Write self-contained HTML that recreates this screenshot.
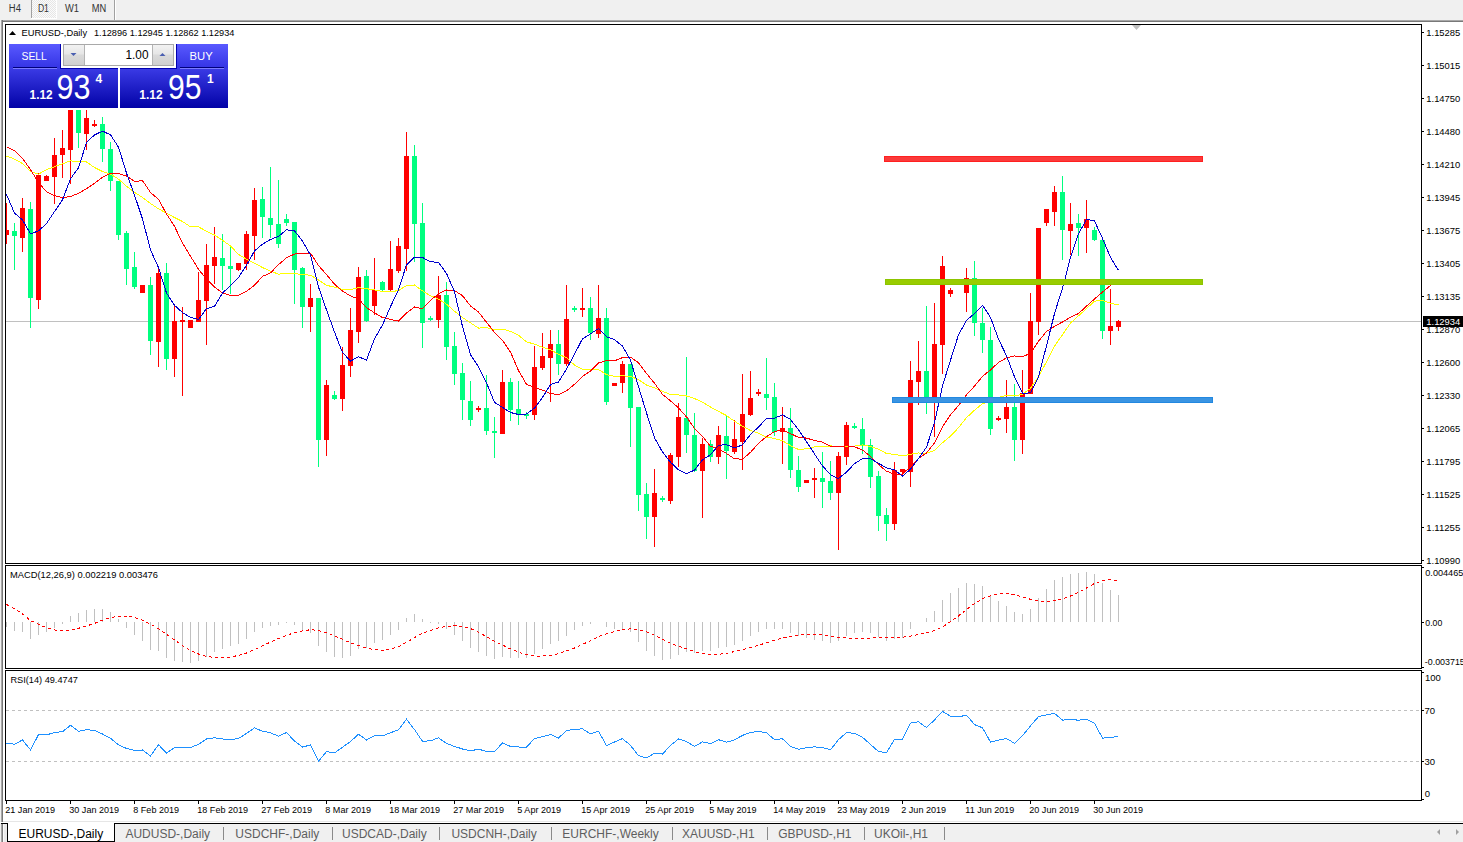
<!DOCTYPE html><html><head><meta charset="utf-8"><title>EURUSD-,Daily</title><style>html,body{margin:0;padding:0;background:#fff;}body{width:1463px;height:842px;overflow:hidden;}svg{display:block;}</style></head><body>
<svg width="1463" height="842" viewBox="0 0 1463 842" font-family="Liberation Sans, Arial, sans-serif">
<defs>
<linearGradient id="gtab" x1="0" y1="0" x2="0" y2="1"><stop offset="0" stop-color="#5959ff"/><stop offset="1" stop-color="#3434e4"/></linearGradient>
<linearGradient id="gblk" x1="0" y1="0" x2="0" y2="1"><stop offset="0" stop-color="#3b3be6"/><stop offset="1" stop-color="#0202a6"/></linearGradient>
<linearGradient id="gbtn" x1="0" y1="0" x2="0" y2="1"><stop offset="0" stop-color="#f2f2f2"/><stop offset="0.45" stop-color="#e6e6e6"/><stop offset="0.5" stop-color="#dadada"/><stop offset="1" stop-color="#d0d0d0"/></linearGradient>
<pattern id="chk" width="2" height="2" patternUnits="userSpaceOnUse"><rect width="2" height="2" fill="#fbfbfb"/><rect width="1" height="1" fill="#e6e6e6"/><rect x="1" y="1" width="1" height="1" fill="#e6e6e6"/></pattern>
<clipPath id="cmain"><rect x="6" y="25" width="1415" height="538"/></clipPath>
<clipPath id="cmacd"><rect x="6" y="566" width="1415" height="102"/></clipPath>
<clipPath id="crsi"><rect x="6" y="671" width="1415" height="129"/></clipPath>
</defs>
<g shape-rendering="crispEdges">
<rect x="0" y="0" width="1463" height="842" fill="#ffffff"/>
<rect x="0" y="0" width="1463" height="20" fill="#f0f0f0"/>
<rect x="32" y="0" width="24" height="18" fill="url(#chk)"/>
<rect x="31" y="0" width="1" height="18" fill="#a0a0a0"/><rect x="56" y="0" width="1" height="19" fill="#fff"/><rect x="31" y="18" width="26" height="1" fill="#fff"/>
<rect x="114" y="0" width="1" height="20" fill="#a0a0a0"/><rect x="115" y="0" width="1" height="20" fill="#ffffff"/>
<rect x="0" y="20" width="1463" height="1" fill="#a8a8a8"/><rect x="0" y="21" width="1463" height="1" fill="#787878"/>
<rect x="0" y="20" width="1" height="802" fill="#f0f0f0"/><rect x="1" y="20" width="1" height="802" fill="#a8a8a8"/><rect x="2" y="20" width="1" height="802" fill="#787878"/>
<rect x="3" y="821" width="1460" height="1" fill="#e6e6e6"/>
<rect x="0" y="823" width="1463" height="19" fill="#f0f0f0"/>
<rect x="1" y="823" width="7" height="1" fill="#000"/><rect x="114" y="823" width="1349" height="1" fill="#000"/>
<rect x="1" y="824" width="1" height="18" fill="#a8a8a8"/><rect x="2" y="824" width="1" height="18" fill="#808080"/><rect x="3" y="824" width="1" height="18" fill="#fafafa"/><rect x="4" y="824" width="3" height="18" fill="#ebebeb"/>
<rect x="7" y="823" width="108" height="19" fill="#000"/><rect x="8" y="823" width="106" height="18" fill="#fff"/>
<rect x="5.5" y="24.5" width="1416" height="539" fill="none" stroke="#000" stroke-width="1"/>
<rect x="5.5" y="565.5" width="1416" height="103" fill="none" stroke="#000" stroke-width="1"/>
<rect x="5.5" y="670.5" width="1416" height="130" fill="none" stroke="#000" stroke-width="1"/>
</g>
<g font-size="10" fill="#333">
<text x="8.8" y="12" textLength="12.1" lengthAdjust="spacingAndGlyphs">H4</text>
<text x="37.9" y="12" textLength="11" lengthAdjust="spacingAndGlyphs">D1</text>
<text x="65" y="12" textLength="14" lengthAdjust="spacingAndGlyphs">W1</text>
<text x="91.8" y="12" textLength="14.5" lengthAdjust="spacingAndGlyphs">MN</text>
</g>
<g clip-path="url(#cmain)" shape-rendering="crispEdges">
<rect x="6" y="321" width="1415" height="1" fill="#c0c0c0"/>
<rect x="6" y="203" width="1" height="41" fill="#ff0000"/>
<rect x="4" y="230" width="5" height="5" fill="#ff0000"/>
<rect x="14" y="223" width="1" height="47" fill="#00ff7f"/>
<rect x="12" y="231" width="5" height="5" fill="#00ff7f"/>
<rect x="22" y="198" width="1" height="54" fill="#ff0000"/>
<rect x="20" y="208" width="5" height="30" fill="#ff0000"/>
<rect x="30" y="202" width="1" height="126" fill="#00ff7f"/>
<rect x="28" y="209" width="5" height="89" fill="#00ff7f"/>
<rect x="38" y="173" width="1" height="136" fill="#ff0000"/>
<rect x="36" y="175" width="5" height="125" fill="#ff0000"/>
<rect x="46" y="175" width="1" height="6" fill="#ff0000"/>
<rect x="44" y="176" width="5" height="5" fill="#ff0000"/>
<rect x="54" y="138" width="1" height="66" fill="#ff0000"/>
<rect x="52" y="155" width="5" height="22" fill="#ff0000"/>
<rect x="62" y="130" width="1" height="48" fill="#ff0000"/>
<rect x="60" y="148" width="5" height="7" fill="#ff0000"/>
<rect x="70" y="95" width="1" height="89" fill="#ff0000"/>
<rect x="68" y="100" width="5" height="50" fill="#ff0000"/>
<rect x="78" y="95" width="1" height="53" fill="#00ff7f"/>
<rect x="76" y="100" width="5" height="33" fill="#00ff7f"/>
<rect x="86" y="108" width="1" height="42" fill="#ff0000"/>
<rect x="84" y="118" width="5" height="16" fill="#ff0000"/>
<rect x="94" y="120" width="1" height="7" fill="#ff0000"/>
<rect x="92" y="124" width="5" height="2" fill="#ff0000"/>
<rect x="102" y="117" width="1" height="45" fill="#00ff7f"/>
<rect x="100" y="124" width="5" height="25" fill="#00ff7f"/>
<rect x="110" y="142" width="1" height="49" fill="#00ff7f"/>
<rect x="108" y="149" width="5" height="32" fill="#00ff7f"/>
<rect x="118" y="181" width="1" height="59" fill="#00ff7f"/>
<rect x="116" y="181" width="5" height="54" fill="#00ff7f"/>
<rect x="126" y="231" width="1" height="54" fill="#00ff7f"/>
<rect x="124" y="233" width="5" height="36" fill="#00ff7f"/>
<rect x="134" y="252" width="1" height="37" fill="#00ff7f"/>
<rect x="132" y="267" width="5" height="20" fill="#00ff7f"/>
<rect x="142" y="285" width="1" height="8" fill="#ff0000"/>
<rect x="140" y="285" width="5" height="8" fill="#ff0000"/>
<rect x="150" y="277" width="1" height="78" fill="#00ff7f"/>
<rect x="148" y="285" width="5" height="56" fill="#00ff7f"/>
<rect x="158" y="266" width="1" height="101" fill="#ff0000"/>
<rect x="156" y="273" width="5" height="69" fill="#ff0000"/>
<rect x="166" y="263" width="1" height="107" fill="#00ff7f"/>
<rect x="164" y="273" width="5" height="86" fill="#00ff7f"/>
<rect x="174" y="304" width="1" height="73" fill="#ff0000"/>
<rect x="172" y="321" width="5" height="38" fill="#ff0000"/>
<rect x="182" y="307" width="1" height="89" fill="#ff0000"/>
<rect x="180" y="320" width="5" height="2" fill="#ff0000"/>
<rect x="190" y="320" width="1" height="8" fill="#ff0000"/>
<rect x="188" y="320" width="5" height="8" fill="#ff0000"/>
<rect x="198" y="272" width="1" height="50" fill="#ff0000"/>
<rect x="196" y="300" width="5" height="22" fill="#ff0000"/>
<rect x="206" y="244" width="1" height="101" fill="#ff0000"/>
<rect x="204" y="265" width="5" height="36" fill="#ff0000"/>
<rect x="214" y="227" width="1" height="57" fill="#ff0000"/>
<rect x="212" y="257" width="5" height="9" fill="#ff0000"/>
<rect x="222" y="234" width="1" height="56" fill="#00ff7f"/>
<rect x="220" y="258" width="5" height="8" fill="#00ff7f"/>
<rect x="230" y="246" width="1" height="48" fill="#00ff7f"/>
<rect x="228" y="266" width="5" height="3" fill="#00ff7f"/>
<rect x="238" y="263" width="1" height="8" fill="#ff0000"/>
<rect x="236" y="263" width="5" height="7" fill="#ff0000"/>
<rect x="246" y="231" width="1" height="39" fill="#ff0000"/>
<rect x="244" y="234" width="5" height="30" fill="#ff0000"/>
<rect x="254" y="188" width="1" height="72" fill="#ff0000"/>
<rect x="252" y="200" width="5" height="36" fill="#ff0000"/>
<rect x="262" y="187" width="1" height="51" fill="#00ff7f"/>
<rect x="260" y="199" width="5" height="18" fill="#00ff7f"/>
<rect x="270" y="167" width="1" height="71" fill="#00ff7f"/>
<rect x="268" y="218" width="5" height="7" fill="#00ff7f"/>
<rect x="278" y="180" width="1" height="68" fill="#00ff7f"/>
<rect x="276" y="224" width="5" height="20" fill="#00ff7f"/>
<rect x="286" y="214" width="1" height="12" fill="#00ff7f"/>
<rect x="284" y="219" width="5" height="4" fill="#00ff7f"/>
<rect x="294" y="222" width="1" height="82" fill="#00ff7f"/>
<rect x="292" y="222" width="5" height="48" fill="#00ff7f"/>
<rect x="302" y="267" width="1" height="61" fill="#00ff7f"/>
<rect x="300" y="268" width="5" height="39" fill="#00ff7f"/>
<rect x="310" y="284" width="1" height="48" fill="#ff0000"/>
<rect x="308" y="298" width="5" height="9" fill="#ff0000"/>
<rect x="318" y="298" width="1" height="169" fill="#00ff7f"/>
<rect x="316" y="298" width="5" height="142" fill="#00ff7f"/>
<rect x="326" y="380" width="1" height="76" fill="#ff0000"/>
<rect x="324" y="385" width="5" height="55" fill="#ff0000"/>
<rect x="334" y="391" width="1" height="9" fill="#00ff7f"/>
<rect x="332" y="395" width="5" height="4" fill="#00ff7f"/>
<rect x="342" y="347" width="1" height="64" fill="#ff0000"/>
<rect x="340" y="365" width="5" height="34" fill="#ff0000"/>
<rect x="350" y="308" width="1" height="69" fill="#ff0000"/>
<rect x="348" y="330" width="5" height="36" fill="#ff0000"/>
<rect x="358" y="267" width="1" height="76" fill="#ff0000"/>
<rect x="356" y="277" width="5" height="55" fill="#ff0000"/>
<rect x="366" y="270" width="1" height="52" fill="#00ff7f"/>
<rect x="364" y="276" width="5" height="45" fill="#00ff7f"/>
<rect x="374" y="258" width="1" height="57" fill="#ff0000"/>
<rect x="372" y="290" width="5" height="16" fill="#ff0000"/>
<rect x="382" y="281" width="1" height="10" fill="#00ff7f"/>
<rect x="380" y="282" width="5" height="8" fill="#00ff7f"/>
<rect x="390" y="241" width="1" height="50" fill="#ff0000"/>
<rect x="388" y="269" width="5" height="21" fill="#ff0000"/>
<rect x="398" y="238" width="1" height="35" fill="#ff0000"/>
<rect x="396" y="246" width="5" height="25" fill="#ff0000"/>
<rect x="406" y="132" width="1" height="139" fill="#ff0000"/>
<rect x="404" y="156" width="5" height="93" fill="#ff0000"/>
<rect x="414" y="145" width="1" height="117" fill="#00ff7f"/>
<rect x="412" y="156" width="5" height="68" fill="#00ff7f"/>
<rect x="422" y="203" width="1" height="145" fill="#00ff7f"/>
<rect x="420" y="223" width="5" height="100" fill="#00ff7f"/>
<rect x="430" y="316" width="1" height="5" fill="#00ff7f"/>
<rect x="428" y="318" width="5" height="2" fill="#00ff7f"/>
<rect x="438" y="276" width="1" height="52" fill="#ff0000"/>
<rect x="436" y="295" width="5" height="25" fill="#ff0000"/>
<rect x="446" y="282" width="1" height="78" fill="#00ff7f"/>
<rect x="444" y="295" width="5" height="52" fill="#00ff7f"/>
<rect x="454" y="332" width="1" height="53" fill="#00ff7f"/>
<rect x="452" y="346" width="5" height="28" fill="#00ff7f"/>
<rect x="462" y="363" width="1" height="57" fill="#00ff7f"/>
<rect x="460" y="373" width="5" height="27" fill="#00ff7f"/>
<rect x="470" y="381" width="1" height="45" fill="#00ff7f"/>
<rect x="468" y="401" width="5" height="19" fill="#00ff7f"/>
<rect x="478" y="406" width="1" height="6" fill="#ff0000"/>
<rect x="476" y="408" width="5" height="2" fill="#ff0000"/>
<rect x="486" y="375" width="1" height="60" fill="#00ff7f"/>
<rect x="484" y="408" width="5" height="23" fill="#00ff7f"/>
<rect x="494" y="417" width="1" height="41" fill="#00ff7f"/>
<rect x="492" y="431" width="5" height="2" fill="#00ff7f"/>
<rect x="502" y="370" width="1" height="64" fill="#ff0000"/>
<rect x="500" y="382" width="5" height="52" fill="#ff0000"/>
<rect x="510" y="378" width="1" height="43" fill="#00ff7f"/>
<rect x="508" y="382" width="5" height="28" fill="#00ff7f"/>
<rect x="518" y="381" width="1" height="44" fill="#00ff7f"/>
<rect x="516" y="409" width="5" height="6" fill="#00ff7f"/>
<rect x="526" y="412" width="1" height="7" fill="#00ff7f"/>
<rect x="524" y="414" width="5" height="2" fill="#00ff7f"/>
<rect x="534" y="346" width="1" height="74" fill="#ff0000"/>
<rect x="532" y="367" width="5" height="48" fill="#ff0000"/>
<rect x="542" y="333" width="1" height="37" fill="#ff0000"/>
<rect x="540" y="356" width="5" height="12" fill="#ff0000"/>
<rect x="550" y="330" width="1" height="72" fill="#ff0000"/>
<rect x="548" y="344" width="5" height="14" fill="#ff0000"/>
<rect x="558" y="330" width="1" height="45" fill="#00ff7f"/>
<rect x="556" y="344" width="5" height="20" fill="#00ff7f"/>
<rect x="566" y="285" width="1" height="81" fill="#ff0000"/>
<rect x="564" y="319" width="5" height="45" fill="#ff0000"/>
<rect x="574" y="306" width="1" height="6" fill="#00ff7f"/>
<rect x="572" y="308" width="5" height="2" fill="#00ff7f"/>
<rect x="582" y="288" width="1" height="29" fill="#ff0000"/>
<rect x="580" y="308" width="5" height="2" fill="#ff0000"/>
<rect x="590" y="297" width="1" height="43" fill="#00ff7f"/>
<rect x="588" y="308" width="5" height="25" fill="#00ff7f"/>
<rect x="598" y="285" width="1" height="53" fill="#ff0000"/>
<rect x="596" y="318" width="5" height="16" fill="#ff0000"/>
<rect x="606" y="308" width="1" height="97" fill="#00ff7f"/>
<rect x="604" y="318" width="5" height="84" fill="#00ff7f"/>
<rect x="614" y="383" width="1" height="3" fill="#ff0000"/>
<rect x="612" y="383" width="5" height="3" fill="#ff0000"/>
<rect x="622" y="361" width="1" height="32" fill="#ff0000"/>
<rect x="620" y="364" width="5" height="19" fill="#ff0000"/>
<rect x="630" y="364" width="1" height="83" fill="#00ff7f"/>
<rect x="628" y="364" width="5" height="44" fill="#00ff7f"/>
<rect x="638" y="407" width="1" height="104" fill="#00ff7f"/>
<rect x="636" y="407" width="5" height="88" fill="#00ff7f"/>
<rect x="646" y="483" width="1" height="56" fill="#00ff7f"/>
<rect x="644" y="494" width="5" height="23" fill="#00ff7f"/>
<rect x="654" y="469" width="1" height="78" fill="#ff0000"/>
<rect x="652" y="493" width="5" height="24" fill="#ff0000"/>
<rect x="662" y="496" width="1" height="6" fill="#00ff7f"/>
<rect x="660" y="498" width="5" height="2" fill="#00ff7f"/>
<rect x="670" y="453" width="1" height="51" fill="#ff0000"/>
<rect x="668" y="455" width="5" height="46" fill="#ff0000"/>
<rect x="678" y="403" width="1" height="64" fill="#ff0000"/>
<rect x="676" y="417" width="5" height="40" fill="#ff0000"/>
<rect x="686" y="357" width="1" height="96" fill="#00ff7f"/>
<rect x="684" y="418" width="5" height="17" fill="#00ff7f"/>
<rect x="694" y="413" width="1" height="59" fill="#00ff7f"/>
<rect x="692" y="435" width="5" height="36" fill="#00ff7f"/>
<rect x="702" y="438" width="1" height="80" fill="#ff0000"/>
<rect x="700" y="444" width="5" height="27" fill="#ff0000"/>
<rect x="710" y="440" width="1" height="22" fill="#00ff7f"/>
<rect x="708" y="444" width="5" height="13" fill="#00ff7f"/>
<rect x="718" y="426" width="1" height="38" fill="#ff0000"/>
<rect x="716" y="435" width="5" height="22" fill="#ff0000"/>
<rect x="726" y="416" width="1" height="63" fill="#00ff7f"/>
<rect x="724" y="436" width="5" height="15" fill="#00ff7f"/>
<rect x="734" y="420" width="1" height="34" fill="#ff0000"/>
<rect x="732" y="439" width="5" height="13" fill="#ff0000"/>
<rect x="742" y="374" width="1" height="96" fill="#ff0000"/>
<rect x="740" y="414" width="5" height="28" fill="#ff0000"/>
<rect x="750" y="371" width="1" height="45" fill="#ff0000"/>
<rect x="748" y="398" width="5" height="17" fill="#ff0000"/>
<rect x="758" y="389" width="1" height="7" fill="#ff0000"/>
<rect x="756" y="392" width="5" height="2" fill="#ff0000"/>
<rect x="766" y="358" width="1" height="52" fill="#00ff7f"/>
<rect x="764" y="394" width="5" height="4" fill="#00ff7f"/>
<rect x="774" y="383" width="1" height="53" fill="#00ff7f"/>
<rect x="772" y="397" width="5" height="35" fill="#00ff7f"/>
<rect x="782" y="407" width="1" height="57" fill="#ff0000"/>
<rect x="780" y="428" width="5" height="4" fill="#ff0000"/>
<rect x="790" y="408" width="1" height="70" fill="#00ff7f"/>
<rect x="788" y="428" width="5" height="42" fill="#00ff7f"/>
<rect x="798" y="456" width="1" height="36" fill="#00ff7f"/>
<rect x="796" y="470" width="5" height="17" fill="#00ff7f"/>
<rect x="806" y="480" width="1" height="3" fill="#ff0000"/>
<rect x="804" y="480" width="5" height="3" fill="#ff0000"/>
<rect x="814" y="468" width="1" height="30" fill="#ff0000"/>
<rect x="812" y="478" width="5" height="2" fill="#ff0000"/>
<rect x="822" y="452" width="1" height="56" fill="#00ff7f"/>
<rect x="820" y="478" width="5" height="4" fill="#00ff7f"/>
<rect x="830" y="461" width="1" height="39" fill="#00ff7f"/>
<rect x="828" y="481" width="5" height="12" fill="#00ff7f"/>
<rect x="838" y="452" width="1" height="98" fill="#ff0000"/>
<rect x="836" y="456" width="5" height="37" fill="#ff0000"/>
<rect x="846" y="422" width="1" height="43" fill="#ff0000"/>
<rect x="844" y="425" width="5" height="32" fill="#ff0000"/>
<rect x="854" y="423" width="1" height="6" fill="#00ff7f"/>
<rect x="852" y="426" width="5" height="2" fill="#00ff7f"/>
<rect x="862" y="418" width="1" height="36" fill="#00ff7f"/>
<rect x="860" y="429" width="5" height="16" fill="#00ff7f"/>
<rect x="870" y="439" width="1" height="49" fill="#00ff7f"/>
<rect x="868" y="445" width="5" height="32" fill="#00ff7f"/>
<rect x="878" y="471" width="1" height="60" fill="#00ff7f"/>
<rect x="876" y="476" width="5" height="40" fill="#00ff7f"/>
<rect x="886" y="508" width="1" height="33" fill="#00ff7f"/>
<rect x="884" y="515" width="5" height="9" fill="#00ff7f"/>
<rect x="894" y="462" width="1" height="68" fill="#ff0000"/>
<rect x="892" y="470" width="5" height="54" fill="#ff0000"/>
<rect x="902" y="469" width="1" height="5" fill="#ff0000"/>
<rect x="900" y="469" width="5" height="3" fill="#ff0000"/>
<rect x="910" y="361" width="1" height="126" fill="#ff0000"/>
<rect x="908" y="380" width="5" height="92" fill="#ff0000"/>
<rect x="918" y="341" width="1" height="64" fill="#ff0000"/>
<rect x="916" y="371" width="5" height="11" fill="#ff0000"/>
<rect x="926" y="306" width="1" height="108" fill="#00ff7f"/>
<rect x="924" y="371" width="5" height="26" fill="#00ff7f"/>
<rect x="934" y="303" width="1" height="134" fill="#ff0000"/>
<rect x="932" y="344" width="5" height="53" fill="#ff0000"/>
<rect x="942" y="256" width="1" height="118" fill="#ff0000"/>
<rect x="940" y="266" width="5" height="79" fill="#ff0000"/>
<rect x="950" y="288" width="1" height="9" fill="#ff0000"/>
<rect x="948" y="290" width="5" height="4" fill="#ff0000"/>
<rect x="966" y="268" width="1" height="44" fill="#ff0000"/>
<rect x="964" y="278" width="5" height="15" fill="#ff0000"/>
<rect x="974" y="261" width="1" height="75" fill="#00ff7f"/>
<rect x="972" y="278" width="5" height="45" fill="#00ff7f"/>
<rect x="982" y="308" width="1" height="45" fill="#00ff7f"/>
<rect x="980" y="323" width="5" height="17" fill="#00ff7f"/>
<rect x="990" y="327" width="1" height="108" fill="#00ff7f"/>
<rect x="988" y="340" width="5" height="89" fill="#00ff7f"/>
<rect x="998" y="416" width="1" height="5" fill="#ff0000"/>
<rect x="996" y="418" width="5" height="2" fill="#ff0000"/>
<rect x="1006" y="380" width="1" height="53" fill="#ff0000"/>
<rect x="1004" y="407" width="5" height="12" fill="#ff0000"/>
<rect x="1014" y="384" width="1" height="77" fill="#00ff7f"/>
<rect x="1012" y="407" width="5" height="33" fill="#00ff7f"/>
<rect x="1022" y="370" width="1" height="84" fill="#ff0000"/>
<rect x="1020" y="393" width="5" height="47" fill="#ff0000"/>
<rect x="1030" y="293" width="1" height="101" fill="#ff0000"/>
<rect x="1028" y="321" width="5" height="73" fill="#ff0000"/>
<rect x="1038" y="228" width="1" height="107" fill="#ff0000"/>
<rect x="1036" y="228" width="5" height="94" fill="#ff0000"/>
<rect x="1046" y="209" width="1" height="17" fill="#ff0000"/>
<rect x="1044" y="209" width="5" height="14" fill="#ff0000"/>
<rect x="1054" y="186" width="1" height="40" fill="#ff0000"/>
<rect x="1052" y="192" width="5" height="20" fill="#ff0000"/>
<rect x="1062" y="176" width="1" height="84" fill="#00ff7f"/>
<rect x="1060" y="192" width="5" height="38" fill="#00ff7f"/>
<rect x="1070" y="203" width="1" height="52" fill="#ff0000"/>
<rect x="1068" y="224" width="5" height="7" fill="#ff0000"/>
<rect x="1078" y="214" width="1" height="42" fill="#00ff7f"/>
<rect x="1076" y="223" width="5" height="5" fill="#00ff7f"/>
<rect x="1086" y="200" width="1" height="53" fill="#ff0000"/>
<rect x="1084" y="219" width="5" height="9" fill="#ff0000"/>
<rect x="1094" y="227" width="1" height="14" fill="#00ff7f"/>
<rect x="1092" y="230" width="5" height="10" fill="#00ff7f"/>
<rect x="1102" y="240" width="1" height="99" fill="#00ff7f"/>
<rect x="1100" y="240" width="5" height="91" fill="#00ff7f"/>
<rect x="1110" y="289" width="1" height="56" fill="#ff0000"/>
<rect x="1108" y="326" width="5" height="5" fill="#ff0000"/>
<rect x="1118" y="320" width="1" height="11" fill="#ff0000"/>
<rect x="1116" y="321" width="5" height="6" fill="#ff0000"/>
</g>
<g clip-path="url(#cmain)">
<polyline points="6.5,156.0 14.5,159.1 22.5,163.6 30.5,171.6 38.5,174.2 46.5,169.6 54.5,166.7 62.5,163.8 70.5,160.8 78.5,161.8 86.5,162.0 94.5,167.5 102.5,171.5 110.5,174.2 118.5,179.1 126.5,186.3 134.5,192.4 142.5,197.4 150.5,203.6 158.5,208.8 166.5,213.1 174.5,217.5 182.5,221.5 190.5,226.8 198.5,226.9 206.5,231.2 214.5,235.0 222.5,240.3 230.5,246.0 238.5,254.4 246.5,259.2 254.5,263.1 262.5,267.5 270.5,271.2 278.5,274.1 286.5,273.6 294.5,273.6 302.5,274.6 310.5,275.2 318.5,279.9 326.5,285.3 334.5,287.2 342.5,289.3 350.5,289.7 358.5,287.7 366.5,288.7 374.5,289.9 382.5,291.5 390.5,291.7 398.5,290.6 406.5,285.5 414.5,285.0 422.5,290.9 430.5,295.8 438.5,299.1 446.5,304.1 454.5,311.3 462.5,317.5 470.5,322.8 478.5,328.1 486.5,327.7 494.5,330.0 502.5,329.2 510.5,331.3 518.5,335.3 526.5,341.9 534.5,344.1 542.5,347.3 550.5,349.8 558.5,354.3 566.5,357.7 574.5,365.1 582.5,369.1 590.5,369.6 598.5,369.5 606.5,374.6 614.5,376.3 622.5,375.9 630.5,376.3 638.5,379.8 646.5,385.0 654.5,387.9 662.5,391.2 670.5,394.6 678.5,395.0 686.5,396.0 694.5,398.6 702.5,402.2 710.5,407.0 718.5,411.4 726.5,415.5 734.5,421.3 742.5,426.2 750.5,430.5 758.5,433.3 766.5,437.1 774.5,438.5 782.5,440.7 790.5,445.7 798.5,449.5 806.5,448.8 814.5,446.9 822.5,446.4 830.5,446.0 838.5,446.1 846.5,446.5 854.5,446.1 862.5,444.9 870.5,446.5 878.5,449.3 886.5,453.5 894.5,454.4 902.5,455.9 910.5,454.2 918.5,453.0 926.5,453.2 934.5,450.6 942.5,442.7 950.5,436.2 958.5,427.7 966.5,417.7 974.5,410.2 982.5,403.7 990.5,401.1 998.5,397.6 1006.5,395.2 1014.5,395.9 1022.5,394.3 1030.5,388.4 1038.5,376.5 1046.5,361.9 1054.5,346.1 1062.5,334.7 1070.5,323.1 1078.5,315.8 1086.5,308.6 1094.5,301.1 1102.5,300.5 1110.5,303.3 1118.5,304.8" fill="none" stroke="#ffff00" stroke-width="1"  shape-rendering="crispEdges"/>
<polyline points="6.5,146.8 14.5,150.7 22.5,158.3 30.5,169.7 38.5,182.4 46.5,191.8 54.5,195.7 62.5,197.7 70.5,196.5 78.5,193.4 86.5,188.6 94.5,183.3 102.5,177.4 110.5,173.2 118.5,173.6 126.5,175.9 134.5,181.5 142.5,180.6 150.5,192.5 158.5,199.4 166.5,213.9 174.5,226.3 182.5,242.9 190.5,256.2 198.5,269.2 206.5,279.2 214.5,287.0 222.5,293.0 230.5,295.5 238.5,295.1 246.5,291.3 254.5,285.2 262.5,276.4 270.5,272.9 278.5,264.7 286.5,257.7 294.5,254.1 302.5,253.2 310.5,253.1 318.5,265.5 326.5,274.7 334.5,284.2 342.5,291.1 350.5,295.9 358.5,299.0 366.5,307.6 374.5,312.8 382.5,317.5 390.5,319.4 398.5,321.1 406.5,312.9 414.5,307.0 422.5,308.8 430.5,300.2 438.5,293.8 446.5,290.0 454.5,290.6 462.5,295.7 470.5,305.9 478.5,312.1 486.5,322.2 494.5,332.4 502.5,340.4 510.5,352.1 518.5,370.6 526.5,384.3 534.5,387.5 542.5,390.1 550.5,393.5 558.5,394.7 566.5,390.8 574.5,384.3 582.5,376.4 590.5,371.0 598.5,362.9 606.5,360.7 614.5,360.8 622.5,357.6 630.5,357.1 638.5,362.7 646.5,373.4 654.5,383.2 662.5,394.4 670.5,400.9 678.5,407.9 686.5,416.9 694.5,428.5 702.5,436.4 710.5,446.3 718.5,448.7 726.5,453.5 734.5,458.8 742.5,459.2 750.5,452.3 758.5,443.4 766.5,436.6 774.5,431.7 782.5,429.8 790.5,433.6 798.5,437.4 806.5,438.1 814.5,440.5 822.5,442.2 830.5,446.4 838.5,446.7 846.5,445.8 854.5,446.8 862.5,450.1 870.5,456.2 878.5,464.6 886.5,471.2 894.5,474.2 902.5,474.1 910.5,466.4 918.5,458.6 926.5,452.9 934.5,443.0 942.5,426.8 950.5,414.9 958.5,405.5 966.5,394.8 974.5,386.1 982.5,376.3 990.5,370.0 998.5,362.4 1006.5,357.9 1014.5,355.9 1022.5,356.8 1030.5,353.2 1038.5,341.2 1046.5,331.5 1054.5,326.3 1062.5,322.0 1070.5,317.1 1078.5,313.6 1086.5,306.1 1094.5,299.0 1102.5,292.0 1110.5,285.5 1118.5,279.4" fill="none" stroke="#ff0000" stroke-width="1"  shape-rendering="crispEdges"/>
<polyline points="6.5,194.5 14.5,213.1 22.5,219.9 30.5,233.8 38.5,230.9 46.5,223.6 54.5,211.6 62.5,199.9 70.5,178.7 78.5,168.0 86.5,142.3 94.5,135.0 102.5,131.1 110.5,134.8 118.5,147.2 126.5,173.1 134.5,195.1 142.5,218.9 150.5,249.9 158.5,267.6 166.5,293.0 174.5,305.3 182.5,312.6 190.5,317.3 198.5,319.5 206.5,308.6 214.5,306.4 222.5,293.0 230.5,285.6 238.5,277.5 246.5,265.2 254.5,251.0 262.5,244.1 270.5,239.5 278.5,236.4 286.5,229.8 294.5,230.7 302.5,241.2 310.5,255.2 318.5,287.0 326.5,309.9 334.5,332.1 342.5,352.5 350.5,361.1 358.5,356.7 366.5,360.1 374.5,338.7 382.5,325.1 390.5,306.6 398.5,289.7 406.5,264.8 414.5,257.2 422.5,257.5 430.5,261.7 438.5,262.4 446.5,273.4 454.5,291.6 462.5,326.6 470.5,354.6 478.5,366.8 486.5,382.7 494.5,402.4 502.5,407.4 510.5,412.5 518.5,414.5 526.5,414.0 534.5,408.1 542.5,397.4 550.5,384.6 558.5,382.0 566.5,369.1 574.5,354.1 582.5,338.8 590.5,333.9 598.5,328.5 606.5,336.8 614.5,339.6 622.5,346.1 630.5,360.1 638.5,386.7 646.5,412.9 654.5,437.9 662.5,452.0 670.5,462.3 678.5,469.8 686.5,473.6 694.5,470.2 702.5,459.8 710.5,454.7 718.5,445.3 726.5,444.7 734.5,447.9 742.5,444.9 750.5,434.4 758.5,427.0 766.5,418.6 774.5,418.1 782.5,414.9 790.5,419.4 798.5,429.9 806.5,441.7 814.5,453.9 822.5,465.9 830.5,474.6 838.5,478.6 846.5,472.1 854.5,463.7 862.5,458.6 870.5,458.5 878.5,463.4 886.5,467.8 894.5,469.8 902.5,476.1 910.5,469.2 918.5,458.6 926.5,447.2 934.5,422.7 942.5,385.8 950.5,360.1 958.5,334.9 966.5,320.3 974.5,313.6 982.5,305.3 990.5,317.4 998.5,339.1 1006.5,355.8 1014.5,376.8 1022.5,393.2 1030.5,392.9 1038.5,377.0 1046.5,345.7 1054.5,313.5 1062.5,288.3 1070.5,257.5 1078.5,233.9 1086.5,219.3 1094.5,221.0 1102.5,238.4 1110.5,257.5 1118.5,270.4" fill="none" stroke="#0000cd" stroke-width="1"  shape-rendering="crispEdges"/>
</g>
<g shape-rendering="crispEdges">
<rect x="884.5" y="156.5" width="318" height="5" fill="#fa3a3a" stroke="#ff2020"/>
<rect x="885.5" y="279.5" width="317" height="5" fill="#99cc00" stroke="#8cc400"/>
<rect x="892.5" y="397.5" width="320" height="5" fill="#3a94e2" stroke="#2288e0"/>
</g>
<polygon points="1132,25 1141,25 1136.5,30" fill="#c0c0c0"/>
<polygon points="9,35 16,35 12.5,31" fill="#000"/>
<text x="21.5" y="36" font-size="9.5" fill="#000" textLength="65.6" lengthAdjust="spacingAndGlyphs">EURUSD-,Daily</text>
<text x="94" y="36" font-size="9.5" fill="#000" textLength="140.4" lengthAdjust="spacingAndGlyphs">1.12896 1.12945 1.12862 1.12934</text>
<g shape-rendering="crispEdges">
<rect x="6" y="42" width="226" height="68" fill="#fff"/>
<rect x="9" y="44" width="52" height="24" fill="url(#gtab)"/>
<rect x="9" y="68" width="109" height="40" fill="url(#gblk)"/>
<rect x="176" y="44" width="52" height="24" fill="url(#gtab)"/>
<rect x="120" y="68" width="108" height="40" fill="url(#gblk)"/>
<rect x="13" y="67" width="44" height="1" fill="#00007a"/><rect x="13" y="68" width="44" height="1" fill="#7b7bff"/>
<rect x="180" y="67" width="44" height="1" fill="#00007a"/><rect x="180" y="68" width="44" height="1" fill="#7b7bff"/>
<rect x="60" y="44" width="1" height="25" fill="#0000b0"/><rect x="60" y="68" width="58" height="1" fill="#0000b0"/>
<rect x="176" y="44" width="1" height="25" fill="#0000b0"/><rect x="120" y="68" width="57" height="1" fill="#0000b0"/>
<rect x="63.5" y="44.5" width="110" height="21" fill="#fff" stroke="#a9a9a9"/>
<rect x="64" y="45" width="20" height="20" fill="url(#gbtn)"/><rect x="84" y="45" width="1" height="20" fill="#b4b4b4"/>
<rect x="153" y="45" width="20" height="20" fill="url(#gbtn)"/><rect x="152" y="45" width="1" height="20" fill="#b4b4b4"/>
</g>
<polygon points="70.5,53 76.5,53 73.5,56" fill="#4a5fb0"/>
<polygon points="159.5,56 165.5,56 162.5,53" fill="#4a5fb0"/>
<text x="125.5" y="58.8" font-size="12" fill="#000" textLength="23" lengthAdjust="spacingAndGlyphs">1.00</text>
<g fill="#fff">
<text x="21.5" y="60" font-size="11.7" textLength="25.4" lengthAdjust="spacingAndGlyphs">SELL</text>
<text x="189.5" y="60" font-size="11.7" textLength="23.2" lengthAdjust="spacingAndGlyphs">BUY</text>
<text x="29.6" y="99" font-size="12.5" font-weight="bold" textLength="23" lengthAdjust="spacingAndGlyphs">1.12</text>
<text x="139.3" y="99" font-size="12.5" font-weight="bold" textLength="23.3" lengthAdjust="spacingAndGlyphs">1.12</text>
<text x="56.5" y="99" font-size="35.5" textLength="34" lengthAdjust="spacingAndGlyphs">93</text>
<text x="167.9" y="99" font-size="35.5" textLength="33.5" lengthAdjust="spacingAndGlyphs">95</text>
<text x="95.6" y="82.8" font-size="12" font-weight="bold">4</text>
<text x="207" y="82.8" font-size="12" font-weight="bold">1</text>
</g>
<g shape-rendering="crispEdges">
<rect x="1422" y="32" width="2" height="1" fill="#000"/>
<rect x="1422" y="65" width="2" height="1" fill="#000"/>
<rect x="1422" y="98" width="2" height="1" fill="#000"/>
<rect x="1422" y="131" width="2" height="1" fill="#000"/>
<rect x="1422" y="164" width="2" height="1" fill="#000"/>
<rect x="1422" y="197" width="2" height="1" fill="#000"/>
<rect x="1422" y="230" width="2" height="1" fill="#000"/>
<rect x="1422" y="263" width="2" height="1" fill="#000"/>
<rect x="1422" y="296" width="2" height="1" fill="#000"/>
<rect x="1422" y="329" width="2" height="1" fill="#000"/>
<rect x="1422" y="362" width="2" height="1" fill="#000"/>
<rect x="1422" y="395" width="2" height="1" fill="#000"/>
<rect x="1422" y="428" width="2" height="1" fill="#000"/>
<rect x="1422" y="461" width="2" height="1" fill="#000"/>
<rect x="1422" y="494" width="2" height="1" fill="#000"/>
<rect x="1422" y="527" width="2" height="1" fill="#000"/>
<rect x="1422" y="560" width="2" height="1" fill="#000"/>
</g>
<g font-size="9.5" fill="#000">
<text x="1426.3" y="36" textLength="34" lengthAdjust="spacingAndGlyphs">1.15285</text>
<text x="1426.3" y="69" textLength="34" lengthAdjust="spacingAndGlyphs">1.15015</text>
<text x="1426.3" y="102" textLength="34" lengthAdjust="spacingAndGlyphs">1.14750</text>
<text x="1426.3" y="135" textLength="34" lengthAdjust="spacingAndGlyphs">1.14480</text>
<text x="1426.3" y="168" textLength="34" lengthAdjust="spacingAndGlyphs">1.14210</text>
<text x="1426.3" y="201" textLength="34" lengthAdjust="spacingAndGlyphs">1.13945</text>
<text x="1426.3" y="234" textLength="34" lengthAdjust="spacingAndGlyphs">1.13675</text>
<text x="1426.3" y="267" textLength="34" lengthAdjust="spacingAndGlyphs">1.13405</text>
<text x="1426.3" y="300" textLength="34" lengthAdjust="spacingAndGlyphs">1.13135</text>
<text x="1426.3" y="333" textLength="34" lengthAdjust="spacingAndGlyphs">1.12870</text>
<text x="1426.3" y="366" textLength="34" lengthAdjust="spacingAndGlyphs">1.12600</text>
<text x="1426.3" y="399" textLength="34" lengthAdjust="spacingAndGlyphs">1.12330</text>
<text x="1426.3" y="432" textLength="34" lengthAdjust="spacingAndGlyphs">1.12065</text>
<text x="1426.3" y="465" textLength="34" lengthAdjust="spacingAndGlyphs">1.11795</text>
<text x="1426.3" y="498" textLength="34" lengthAdjust="spacingAndGlyphs">1.11525</text>
<text x="1426.3" y="531" textLength="34" lengthAdjust="spacingAndGlyphs">1.11255</text>
<text x="1426.3" y="564" textLength="34" lengthAdjust="spacingAndGlyphs">1.10990</text>
</g>
<rect x="1423" y="316" width="40" height="11" fill="#000" shape-rendering="crispEdges"/>
<text x="1426.3" y="325.2" font-size="9.5" fill="#fff" textLength="34" lengthAdjust="spacingAndGlyphs">1.12934</text>
<g clip-path="url(#cmacd)" shape-rendering="crispEdges">
<rect x="6" y="622" width="1" height="5" fill="#c0c0c0"/>
<rect x="14" y="622" width="1" height="9" fill="#c0c0c0"/>
<rect x="22" y="622" width="1" height="10" fill="#c0c0c0"/>
<rect x="30" y="622" width="1" height="17" fill="#c0c0c0"/>
<rect x="38" y="622" width="1" height="13" fill="#c0c0c0"/>
<rect x="46" y="622" width="1" height="10" fill="#c0c0c0"/>
<rect x="54" y="622" width="1" height="6" fill="#c0c0c0"/>
<rect x="62" y="622" width="1" height="2" fill="#c0c0c0"/>
<rect x="70" y="616" width="1" height="6" fill="#c0c0c0"/>
<rect x="78" y="613" width="1" height="9" fill="#c0c0c0"/>
<rect x="86" y="610" width="1" height="12" fill="#c0c0c0"/>
<rect x="94" y="609" width="1" height="13" fill="#c0c0c0"/>
<rect x="102" y="609" width="1" height="13" fill="#c0c0c0"/>
<rect x="110" y="612" width="1" height="10" fill="#c0c0c0"/>
<rect x="118" y="619" width="1" height="3" fill="#c0c0c0"/>
<rect x="126" y="622" width="1" height="6" fill="#c0c0c0"/>
<rect x="134" y="622" width="1" height="13" fill="#c0c0c0"/>
<rect x="142" y="622" width="1" height="19" fill="#c0c0c0"/>
<rect x="150" y="622" width="1" height="28" fill="#c0c0c0"/>
<rect x="158" y="622" width="1" height="29" fill="#c0c0c0"/>
<rect x="166" y="622" width="1" height="36" fill="#c0c0c0"/>
<rect x="174" y="622" width="1" height="39" fill="#c0c0c0"/>
<rect x="182" y="622" width="1" height="40" fill="#c0c0c0"/>
<rect x="190" y="622" width="1" height="41" fill="#c0c0c0"/>
<rect x="198" y="622" width="1" height="39" fill="#c0c0c0"/>
<rect x="206" y="622" width="1" height="35" fill="#c0c0c0"/>
<rect x="214" y="622" width="1" height="30" fill="#c0c0c0"/>
<rect x="222" y="622" width="1" height="27" fill="#c0c0c0"/>
<rect x="230" y="622" width="1" height="24" fill="#c0c0c0"/>
<rect x="238" y="622" width="1" height="22" fill="#c0c0c0"/>
<rect x="246" y="622" width="1" height="17" fill="#c0c0c0"/>
<rect x="254" y="622" width="1" height="10" fill="#c0c0c0"/>
<rect x="262" y="622" width="1" height="6" fill="#c0c0c0"/>
<rect x="270" y="622" width="1" height="4" fill="#c0c0c0"/>
<rect x="278" y="622" width="1" height="3" fill="#c0c0c0"/>
<rect x="286" y="622" width="1" height="1" fill="#c0c0c0"/>
<rect x="294" y="622" width="1" height="3" fill="#c0c0c0"/>
<rect x="302" y="622" width="1" height="8" fill="#c0c0c0"/>
<rect x="310" y="622" width="1" height="11" fill="#c0c0c0"/>
<rect x="318" y="622" width="1" height="24" fill="#c0c0c0"/>
<rect x="326" y="622" width="1" height="30" fill="#c0c0c0"/>
<rect x="334" y="622" width="1" height="35" fill="#c0c0c0"/>
<rect x="342" y="622" width="1" height="36" fill="#c0c0c0"/>
<rect x="350" y="622" width="1" height="34" fill="#c0c0c0"/>
<rect x="358" y="622" width="1" height="27" fill="#c0c0c0"/>
<rect x="366" y="622" width="1" height="26" fill="#c0c0c0"/>
<rect x="374" y="622" width="1" height="21" fill="#c0c0c0"/>
<rect x="382" y="622" width="1" height="18" fill="#c0c0c0"/>
<rect x="390" y="622" width="1" height="13" fill="#c0c0c0"/>
<rect x="398" y="622" width="1" height="8" fill="#c0c0c0"/>
<rect x="406" y="618" width="1" height="4" fill="#c0c0c0"/>
<rect x="414" y="614" width="1" height="8" fill="#c0c0c0"/>
<rect x="422" y="619" width="1" height="3" fill="#c0c0c0"/>
<rect x="430" y="622" width="1" height="1" fill="#c0c0c0"/>
<rect x="438" y="622" width="1" height="2" fill="#c0c0c0"/>
<rect x="446" y="622" width="1" height="7" fill="#c0c0c0"/>
<rect x="454" y="622" width="1" height="13" fill="#c0c0c0"/>
<rect x="462" y="622" width="1" height="19" fill="#c0c0c0"/>
<rect x="470" y="622" width="1" height="26" fill="#c0c0c0"/>
<rect x="478" y="622" width="1" height="30" fill="#c0c0c0"/>
<rect x="486" y="622" width="1" height="34" fill="#c0c0c0"/>
<rect x="494" y="622" width="1" height="37" fill="#c0c0c0"/>
<rect x="502" y="622" width="1" height="35" fill="#c0c0c0"/>
<rect x="510" y="622" width="1" height="36" fill="#c0c0c0"/>
<rect x="518" y="622" width="1" height="36" fill="#c0c0c0"/>
<rect x="526" y="622" width="1" height="36" fill="#c0c0c0"/>
<rect x="534" y="622" width="1" height="32" fill="#c0c0c0"/>
<rect x="542" y="622" width="1" height="27" fill="#c0c0c0"/>
<rect x="550" y="622" width="1" height="22" fill="#c0c0c0"/>
<rect x="558" y="622" width="1" height="19" fill="#c0c0c0"/>
<rect x="566" y="622" width="1" height="14" fill="#c0c0c0"/>
<rect x="574" y="622" width="1" height="8" fill="#c0c0c0"/>
<rect x="582" y="622" width="1" height="4" fill="#c0c0c0"/>
<rect x="590" y="622" width="1" height="2" fill="#c0c0c0"/>
<rect x="606" y="622" width="1" height="5" fill="#c0c0c0"/>
<rect x="614" y="622" width="1" height="7" fill="#c0c0c0"/>
<rect x="622" y="622" width="1" height="7" fill="#c0c0c0"/>
<rect x="630" y="622" width="1" height="10" fill="#c0c0c0"/>
<rect x="638" y="622" width="1" height="20" fill="#c0c0c0"/>
<rect x="646" y="622" width="1" height="29" fill="#c0c0c0"/>
<rect x="654" y="622" width="1" height="34" fill="#c0c0c0"/>
<rect x="662" y="622" width="1" height="38" fill="#c0c0c0"/>
<rect x="670" y="622" width="1" height="37" fill="#c0c0c0"/>
<rect x="678" y="622" width="1" height="33" fill="#c0c0c0"/>
<rect x="686" y="622" width="1" height="30" fill="#c0c0c0"/>
<rect x="694" y="622" width="1" height="31" fill="#c0c0c0"/>
<rect x="702" y="622" width="1" height="29" fill="#c0c0c0"/>
<rect x="710" y="622" width="1" height="29" fill="#c0c0c0"/>
<rect x="718" y="622" width="1" height="26" fill="#c0c0c0"/>
<rect x="726" y="622" width="1" height="25" fill="#c0c0c0"/>
<rect x="734" y="622" width="1" height="23" fill="#c0c0c0"/>
<rect x="742" y="622" width="1" height="19" fill="#c0c0c0"/>
<rect x="750" y="622" width="1" height="14" fill="#c0c0c0"/>
<rect x="758" y="622" width="1" height="10" fill="#c0c0c0"/>
<rect x="766" y="622" width="1" height="7" fill="#c0c0c0"/>
<rect x="774" y="622" width="1" height="7" fill="#c0c0c0"/>
<rect x="782" y="622" width="1" height="7" fill="#c0c0c0"/>
<rect x="790" y="622" width="1" height="11" fill="#c0c0c0"/>
<rect x="798" y="622" width="1" height="14" fill="#c0c0c0"/>
<rect x="806" y="622" width="1" height="16" fill="#c0c0c0"/>
<rect x="814" y="622" width="1" height="18" fill="#c0c0c0"/>
<rect x="822" y="622" width="1" height="19" fill="#c0c0c0"/>
<rect x="830" y="622" width="1" height="21" fill="#c0c0c0"/>
<rect x="838" y="622" width="1" height="19" fill="#c0c0c0"/>
<rect x="846" y="622" width="1" height="14" fill="#c0c0c0"/>
<rect x="854" y="622" width="1" height="11" fill="#c0c0c0"/>
<rect x="862" y="622" width="1" height="10" fill="#c0c0c0"/>
<rect x="870" y="622" width="1" height="11" fill="#c0c0c0"/>
<rect x="878" y="622" width="1" height="15" fill="#c0c0c0"/>
<rect x="886" y="622" width="1" height="19" fill="#c0c0c0"/>
<rect x="894" y="622" width="1" height="17" fill="#c0c0c0"/>
<rect x="902" y="622" width="1" height="16" fill="#c0c0c0"/>
<rect x="910" y="622" width="1" height="7" fill="#c0c0c0"/>
<rect x="926" y="618" width="1" height="4" fill="#c0c0c0"/>
<rect x="934" y="611" width="1" height="11" fill="#c0c0c0"/>
<rect x="942" y="600" width="1" height="22" fill="#c0c0c0"/>
<rect x="950" y="593" width="1" height="29" fill="#c0c0c0"/>
<rect x="958" y="588" width="1" height="34" fill="#c0c0c0"/>
<rect x="966" y="583" width="1" height="39" fill="#c0c0c0"/>
<rect x="974" y="584" width="1" height="38" fill="#c0c0c0"/>
<rect x="982" y="586" width="1" height="36" fill="#c0c0c0"/>
<rect x="990" y="595" width="1" height="27" fill="#c0c0c0"/>
<rect x="998" y="601" width="1" height="21" fill="#c0c0c0"/>
<rect x="1006" y="606" width="1" height="16" fill="#c0c0c0"/>
<rect x="1014" y="612" width="1" height="10" fill="#c0c0c0"/>
<rect x="1022" y="614" width="1" height="8" fill="#c0c0c0"/>
<rect x="1030" y="609" width="1" height="13" fill="#c0c0c0"/>
<rect x="1038" y="598" width="1" height="24" fill="#c0c0c0"/>
<rect x="1046" y="589" width="1" height="33" fill="#c0c0c0"/>
<rect x="1054" y="580" width="1" height="42" fill="#c0c0c0"/>
<rect x="1062" y="577" width="1" height="45" fill="#c0c0c0"/>
<rect x="1070" y="574" width="1" height="48" fill="#c0c0c0"/>
<rect x="1078" y="573" width="1" height="49" fill="#c0c0c0"/>
<rect x="1086" y="572" width="1" height="50" fill="#c0c0c0"/>
<rect x="1094" y="574" width="1" height="48" fill="#c0c0c0"/>
<rect x="1102" y="583" width="1" height="39" fill="#c0c0c0"/>
<rect x="1110" y="590" width="1" height="32" fill="#c0c0c0"/>
<rect x="1118" y="595" width="1" height="27" fill="#c0c0c0"/>
</g>
<g clip-path="url(#cmacd)">
<polyline points="6.5,604.5 14.5,609.0 22.5,613.9 30.5,620.5 38.5,624.2 46.5,627.8 54.5,630.0 62.5,630.8 70.5,629.8 78.5,628.3 86.5,626.0 94.5,623.4 102.5,620.1 110.5,617.6 118.5,616.1 126.5,616.1 134.5,617.4 142.5,620.2 150.5,624.2 158.5,628.7 166.5,634.3 174.5,640.0 182.5,645.5 190.5,650.3 198.5,654.0 206.5,656.4 214.5,657.6 222.5,657.5 230.5,657.0 238.5,655.4 246.5,653.0 254.5,649.7 262.5,645.9 270.5,642.0 278.5,638.5 286.5,635.3 294.5,632.7 302.5,630.9 310.5,629.7 318.5,630.5 326.5,632.6 334.5,635.8 342.5,639.4 350.5,642.7 358.5,645.6 366.5,648.1 374.5,649.6 382.5,650.4 390.5,649.2 398.5,646.7 406.5,642.4 414.5,637.5 422.5,633.4 430.5,630.5 438.5,627.9 446.5,626.3 454.5,625.8 462.5,626.5 470.5,628.5 478.5,632.2 486.5,636.8 494.5,641.3 502.5,645.1 510.5,648.9 518.5,652.1 526.5,654.7 534.5,656.0 542.5,656.1 550.5,655.3 558.5,653.6 566.5,651.0 574.5,648.0 582.5,644.4 590.5,640.7 598.5,636.7 606.5,633.7 614.5,631.5 622.5,629.8 630.5,628.8 638.5,629.5 646.5,631.8 654.5,635.1 662.5,639.1 670.5,643.2 678.5,646.3 686.5,648.9 694.5,651.6 702.5,653.7 710.5,654.6 718.5,654.3 726.5,653.3 734.5,651.6 742.5,649.6 750.5,647.6 758.5,645.3 766.5,642.7 774.5,640.2 782.5,637.9 790.5,636.2 798.5,635.0 806.5,634.3 814.5,634.2 822.5,634.7 830.5,635.9 838.5,637.2 846.5,637.9 854.5,638.4 862.5,638.3 870.5,638.0 878.5,637.9 886.5,638.0 894.5,637.8 902.5,637.3 910.5,636.1 918.5,634.5 926.5,632.8 934.5,630.5 942.5,626.8 950.5,621.8 958.5,615.9 966.5,609.6 974.5,603.6 982.5,598.7 990.5,595.7 998.5,593.8 1006.5,593.2 1014.5,594.6 1022.5,597.0 1030.5,599.3 1038.5,601.0 1046.5,601.6 1054.5,600.9 1062.5,599.0 1070.5,596.0 1078.5,592.4 1086.5,588.0 1094.5,583.5 1102.5,580.6 1110.5,579.7 1118.5,580.4" fill="none" stroke="#ff0000" stroke-width="1" stroke-dasharray="3,3" shape-rendering="crispEdges"/>
</g>
<text x="10" y="578" font-size="9.5" fill="#000" textLength="148" lengthAdjust="spacingAndGlyphs">MACD(12,26,9) 0.002219 0.003476</text>
<g shape-rendering="crispEdges"><rect x="1422" y="567" width="2" height="1"/><rect x="1422" y="622" width="2" height="1"/><rect x="1422" y="667" width="2" height="1"/></g>
<g font-size="9.5" fill="#000">
<text x="1425.3" y="576" textLength="38" lengthAdjust="spacingAndGlyphs">0.004465</text>
<text x="1425.3" y="625.7" textLength="17" lengthAdjust="spacingAndGlyphs">0.00</text>
<text x="1424.8" y="665" textLength="40" lengthAdjust="spacingAndGlyphs">-0.003715</text>
</g>
<g clip-path="url(#crsi)">
<line x1="6" y1="710.5" x2="1421" y2="710.5" stroke="#c0c0c0" stroke-dasharray="3,3" shape-rendering="crispEdges"/>
<line x1="6" y1="761.5" x2="1421" y2="761.5" stroke="#c0c0c0" stroke-dasharray="3,3" shape-rendering="crispEdges"/>
<polyline points="6.5,743.4 14.5,744.2 22.5,740.0 30.5,749.9 38.5,734.7 46.5,734.9 54.5,732.5 62.5,731.7 70.5,725.3 78.5,731.3 86.5,729.6 94.5,730.5 102.5,734.0 110.5,738.3 118.5,744.8 126.5,748.5 134.5,750.4 142.5,750.0 150.5,755.9 158.5,744.7 166.5,753.1 174.5,747.7 182.5,747.6 190.5,747.5 198.5,744.3 206.5,739.0 214.5,737.8 222.5,739.0 230.5,739.6 238.5,738.5 246.5,733.4 254.5,727.9 262.5,731.2 270.5,732.7 278.5,736.3 286.5,732.5 294.5,741.1 302.5,747.0 310.5,745.0 318.5,761.3 326.5,751.6 334.5,752.9 342.5,747.2 350.5,741.6 358.5,734.2 366.5,740.0 374.5,735.7 382.5,735.8 390.5,732.8 398.5,729.7 406.5,719.3 414.5,729.6 422.5,741.3 430.5,740.8 438.5,737.8 446.5,743.5 454.5,746.4 462.5,749.0 470.5,750.9 478.5,749.1 486.5,751.5 494.5,751.8 502.5,742.9 510.5,746.4 518.5,747.0 526.5,747.2 534.5,738.5 542.5,736.6 550.5,734.5 558.5,738.0 566.5,730.6 574.5,729.2 582.5,728.9 590.5,733.9 598.5,731.2 606.5,745.5 614.5,742.0 622.5,738.6 630.5,745.4 638.5,755.7 646.5,757.9 654.5,753.2 662.5,754.1 670.5,745.4 678.5,739.0 686.5,741.6 694.5,746.5 702.5,741.8 710.5,743.6 718.5,739.7 726.5,742.2 734.5,739.9 742.5,735.4 750.5,732.5 758.5,731.5 766.5,732.7 774.5,739.6 782.5,738.8 790.5,746.5 798.5,749.3 806.5,747.6 814.5,746.9 822.5,747.6 830.5,749.8 838.5,739.7 846.5,732.6 854.5,733.4 862.5,737.4 870.5,744.4 878.5,751.5 886.5,752.8 894.5,739.5 902.5,739.1 910.5,723.1 918.5,721.7 926.5,727.6 934.5,719.9 942.5,711.3 950.5,716.3 958.5,716.9 966.5,715.1 974.5,724.6 982.5,727.8 990.5,742.0 998.5,740.2 1006.5,738.5 1014.5,743.3 1022.5,735.6 1030.5,725.9 1038.5,716.6 1046.5,714.9 1054.5,713.4 1062.5,720.1 1070.5,719.4 1078.5,720.2 1086.5,719.1 1094.5,723.3 1102.5,738.1 1110.5,737.4 1118.5,736.6" fill="none" stroke="#1e90ff" stroke-width="1"  shape-rendering="crispEdges"/>
</g>
<text x="10.4" y="683" font-size="9.5" fill="#000" textLength="67.5" lengthAdjust="spacingAndGlyphs">RSI(14) 49.4747</text>
<g shape-rendering="crispEdges"><rect x="1422" y="672" width="2" height="1"/><rect x="1422" y="710" width="2" height="1"/><rect x="1422" y="761" width="2" height="1"/><rect x="1422" y="799" width="2" height="1"/></g>
<g font-size="9.5" fill="#000">
<text x="1425" y="681">100</text><text x="1424.4" y="714">70</text><text x="1424.4" y="765">30</text><text x="1424.8" y="797">0</text>
</g>
<g shape-rendering="crispEdges">
<rect x="6" y="801" width="1" height="3" fill="#000"/>
<rect x="70" y="801" width="1" height="3" fill="#000"/>
<rect x="134" y="801" width="1" height="3" fill="#000"/>
<rect x="198" y="801" width="1" height="3" fill="#000"/>
<rect x="262" y="801" width="1" height="3" fill="#000"/>
<rect x="326" y="801" width="1" height="3" fill="#000"/>
<rect x="390" y="801" width="1" height="3" fill="#000"/>
<rect x="454" y="801" width="1" height="3" fill="#000"/>
<rect x="518" y="801" width="1" height="3" fill="#000"/>
<rect x="582" y="801" width="1" height="3" fill="#000"/>
<rect x="646" y="801" width="1" height="3" fill="#000"/>
<rect x="710" y="801" width="1" height="3" fill="#000"/>
<rect x="774" y="801" width="1" height="3" fill="#000"/>
<rect x="838" y="801" width="1" height="3" fill="#000"/>
<rect x="902" y="801" width="1" height="3" fill="#000"/>
<rect x="966" y="801" width="1" height="3" fill="#000"/>
<rect x="1030" y="801" width="1" height="3" fill="#000"/>
<rect x="1094" y="801" width="1" height="3" fill="#000"/>
</g>
<g font-size="9.5" fill="#000">
<text x="5.3" y="813" textLength="49.8" lengthAdjust="spacingAndGlyphs">21 Jan 2019</text>
<text x="69.3" y="813" textLength="49.8" lengthAdjust="spacingAndGlyphs">30 Jan 2019</text>
<text x="133.3" y="813" textLength="45.8" lengthAdjust="spacingAndGlyphs">8 Feb 2019</text>
<text x="197.3" y="813" textLength="50.8" lengthAdjust="spacingAndGlyphs">18 Feb 2019</text>
<text x="261.3" y="813" textLength="50.8" lengthAdjust="spacingAndGlyphs">27 Feb 2019</text>
<text x="325.3" y="813" textLength="45.8" lengthAdjust="spacingAndGlyphs">8 Mar 2019</text>
<text x="389.3" y="813" textLength="50.8" lengthAdjust="spacingAndGlyphs">18 Mar 2019</text>
<text x="453.3" y="813" textLength="50.8" lengthAdjust="spacingAndGlyphs">27 Mar 2019</text>
<text x="517.3" y="813" textLength="43.8" lengthAdjust="spacingAndGlyphs">5 Apr 2019</text>
<text x="581.3" y="813" textLength="48.8" lengthAdjust="spacingAndGlyphs">15 Apr 2019</text>
<text x="645.3" y="813" textLength="48.8" lengthAdjust="spacingAndGlyphs">25 Apr 2019</text>
<text x="709.3" y="813" textLength="47.3" lengthAdjust="spacingAndGlyphs">5 May 2019</text>
<text x="773.3" y="813" textLength="52.3" lengthAdjust="spacingAndGlyphs">14 May 2019</text>
<text x="837.3" y="813" textLength="52.3" lengthAdjust="spacingAndGlyphs">23 May 2019</text>
<text x="901.3" y="813" textLength="44.8" lengthAdjust="spacingAndGlyphs">2 Jun 2019</text>
<text x="965.3" y="813" textLength="49.1" lengthAdjust="spacingAndGlyphs">11 Jun 2019</text>
<text x="1029.3" y="813" textLength="49.8" lengthAdjust="spacingAndGlyphs">20 Jun 2019</text>
<text x="1093.3" y="813" textLength="49.8" lengthAdjust="spacingAndGlyphs">30 Jun 2019</text>
</g>
<text x="18.5" y="838" font-size="12" fill="#000">EURUSD-,Daily</text>
<g font-size="12" fill="#5e5e5e">
<text x="125.4" y="838">AUDUSD-,Daily</text>
<text x="235.3" y="838">USDCHF-,Daily</text>
<text x="342" y="838">USDCAD-,Daily</text>
<text x="451.4" y="838">USDCNH-,Daily</text>
<text x="562.3" y="838">EURCHF-,Weekly</text>
<text x="682" y="838">XAUUSD-,H1</text>
<text x="778.2" y="838">GBPUSD-,H1</text>
<text x="874" y="838">UKOil-,H1</text>
</g>
<g shape-rendering="crispEdges">
<rect x="223" y="827" width="1" height="13" fill="#8a8a8a"/>
<rect x="332" y="827" width="1" height="13" fill="#8a8a8a"/>
<rect x="439" y="827" width="1" height="13" fill="#8a8a8a"/>
<rect x="551" y="827" width="1" height="13" fill="#8a8a8a"/>
<rect x="672" y="827" width="1" height="13" fill="#8a8a8a"/>
<rect x="767" y="827" width="1" height="13" fill="#8a8a8a"/>
<rect x="864" y="827" width="1" height="13" fill="#8a8a8a"/>
<rect x="944" y="827" width="1" height="13" fill="#8a8a8a"/>
</g>
<polygon points="1440,829 1440,835 1437,832" fill="#a0a0a0"/>
<polygon points="1456,829 1456,835 1459,832" fill="#a0a0a0"/>
</svg></body></html>
